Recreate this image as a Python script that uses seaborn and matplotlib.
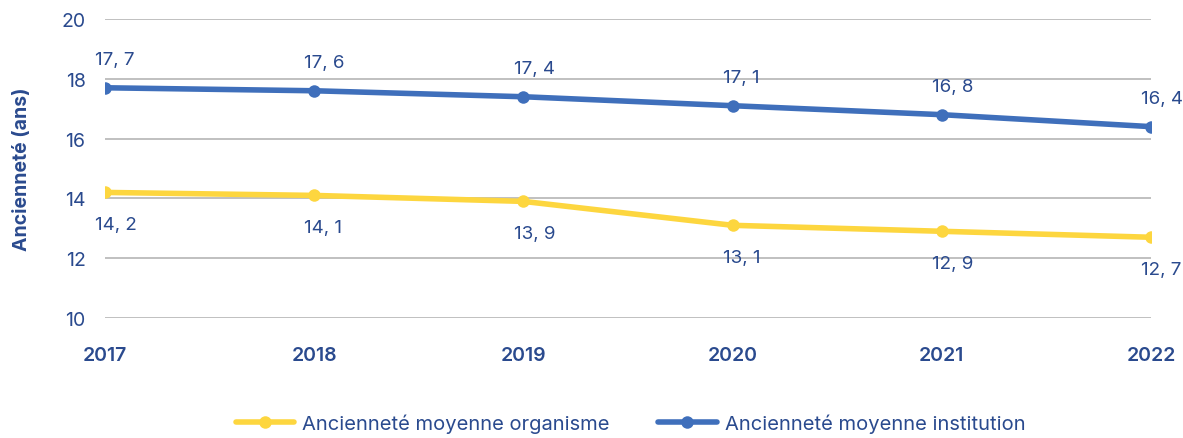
import pandas as pd
import seaborn as sns
import matplotlib.pyplot as plt

# Values
annees = ['2017', '2018', '2019', '2020', '2021', '2022']
organisme = [14.2, 14.1, 13.9, 13.1, 12.9, 12.7]
institution = [17.7, 17.6, 17.4, 17.1, 16.8, 16.4]

lbl_org = 'Ancienneté moyenne organisme'
lbl_inst = 'Ancienneté moyenne institution'

data = pd.DataFrame({'annee': annees * 2,
                     'valeur': organisme + institution,
                     'serie': [lbl_org] * 6 + [lbl_inst] * 6})

sns.set_style('white')
plt.rcParams['font.family'] = ['Inter', 'DejaVu Sans']

texte = '#2a4a8e'
couleurs = {lbl_org: '#fdd63f', lbl_inst: '#3f6fbb'}

fig = plt.figure(figsize=(11.83, 4.39), dpi=100)
ax = fig.add_axes([105 / 1183, 120 / 439, 1046 / 1183, 299 / 439])

sns.lineplot(data=data, x='annee', y='valeur', hue='serie', palette=couleurs,
             marker='o', markersize=9, markeredgewidth=0, linewidth=4,
             sort=False, ax=ax, legend=False)

# Data labels with comma decimal
for i, (o, v) in enumerate(zip(organisme, institution)):
    ax.annotate(f'{v:.1f}'.replace('.', ', '), (i, v), xytext=(-7, 14),
                textcoords='offset points', ha='left', va='bottom',
                color=texte, fontsize=13.5)
    ax.annotate(f'{o:.1f}'.replace('.', ', '), (i, o), xytext=(-7, -17),
                textcoords='offset points', ha='left', va='top',
                color=texte, fontsize=13.5)

ax.set_xlim(0, 5)
ax.set_ylim(10, 20)
ax.set_yticks([10, 12, 14, 16, 18, 20])
ax.yaxis.grid(True, color='#b5b5b5', linewidth=1.2)
ax.set_axisbelow(True)
for s in ax.spines.values():
    s.set_visible(False)
ax.tick_params(axis='both', length=0, colors=texte, labelsize=14)
ax.tick_params(axis='y', pad=14)
ax.tick_params(axis='x', pad=20)
for t in ax.get_xticklabels():
    t.set_fontweight('semibold')
ax.set_xlabel('')
ax.set_ylabel('Ancienneté (ans)', color=texte, fontsize=14, fontweight='bold', labelpad=22)

handles = [plt.Line2D([], [], color=couleurs[lbl_org], marker='o', markersize=9,
                      markeredgewidth=0, linewidth=4),
           plt.Line2D([], [], color=couleurs[lbl_inst], marker='o', markersize=9,
                      markeredgewidth=0, linewidth=4)]
leg = fig.legend(handles, [lbl_org, lbl_inst], loc='lower center',
                 bbox_to_anchor=(0.533, -0.03), ncol=2, frameon=False,
                 handlelength=2.9, handletextpad=0.4, columnspacing=2.4, fontsize=14.5)
for t in leg.get_texts():
    t.set_color(texte)

plt.savefig('out.png', dpi=100)
